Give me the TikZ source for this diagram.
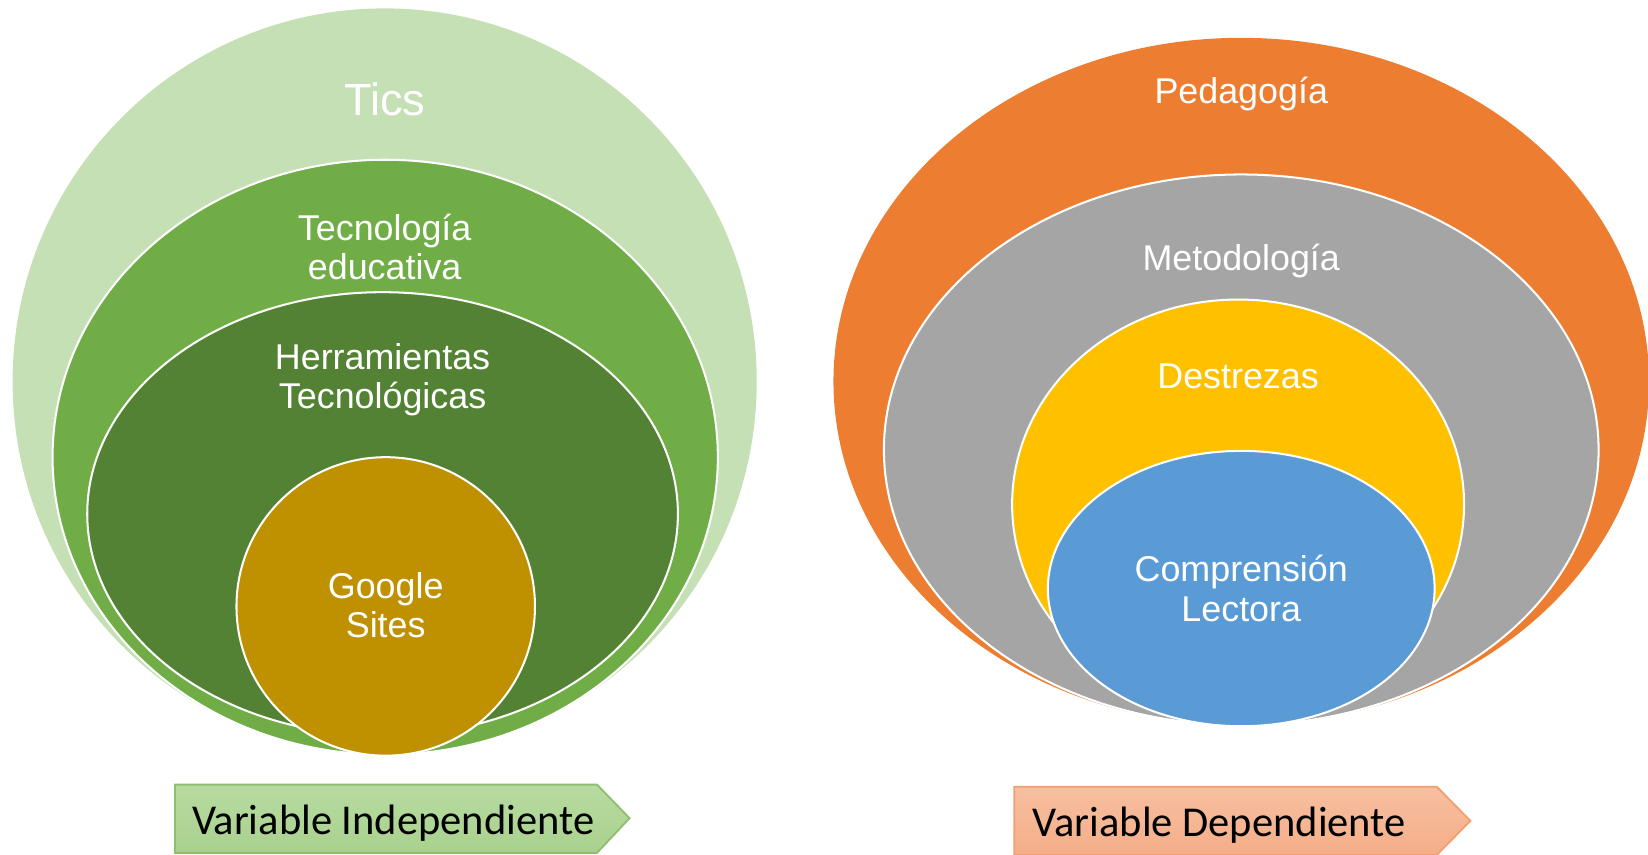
\documentclass[tikz,border=0pt]{standalone}
\usepackage{fontspec}
\setmainfont{Liberation Sans}
\newfontfamily\labelfont{Carlito}
\definecolor{ticsgreen}{HTML}{C5E0B4}
\definecolor{tecgreen}{HTML}{70AD47}
\definecolor{herrgreen}{HTML}{548235}
\definecolor{gold}{HTML}{BF9000}
\definecolor{pedorange}{HTML}{ED7D31}
\definecolor{metgray}{HTML}{A5A5A5}
\definecolor{desyellow}{HTML}{FFC000}
\definecolor{compblue}{HTML}{5B9BD5}
\definecolor{lgtop}{HTML}{B7DBA1}
\definecolor{lgbot}{HTML}{A9D18E}
\definecolor{lgedge}{HTML}{8FBF6E}
\definecolor{lotop}{HTML}{F7BFA0}
\definecolor{lobot}{HTML}{F4AE88}
\definecolor{loedge}{HTML}{F0A070}
\tikzset{
  layer/.style={draw=white, line width=0.55pt},
  wtext/.style={text=white, align=center, font=\fontsize{9.7}{10.6}\selectfont, inner sep=0pt},
  bigtext/.style={text=white, align=center, font=\fontsize{12.2}{13}\selectfont, inner sep=0pt},
  vlabel/.style={font=\labelfont\fontsize{11.5}{12}\selectfont, text=black, anchor=west, inner sep=0pt},
}
\begin{document}
\begin{tikzpicture}[x=0.01cm,y=-0.01cm]
\useasboundingbox (0,0) rectangle (1568,813);
% Left nest
\fill[ticsgreen] (366,363) ellipse [x radius=354, y radius=355];
\filldraw[layer, fill=tecgreen] (366.5,435) ellipse [x radius=316.5, y radius=283];
\filldraw[layer, fill=herrgreen] (364,489) ellipse [x radius=281, y radius=211];
\filldraw[layer, fill=gold] (367,577) ellipse [x radius=142, y radius=142];
\node[bigtext] (tics) at (366,95) {Tics};
\node[wtext] (tec) at (366,235) {Tecnología\\educativa};
\node[wtext] (herr) at (364,361) {Herramientas\\Tecnológicas};
\node[wtext] (goog) at (367,576) {Google\\Sites};
% Right nest
\fill[pedorange] (1181,363) ellipse [x radius=388, y radius=327];
\filldraw[layer, fill=metgray] (1181,428) ellipse [x radius=340, y radius=262];
\filldraw[layer, fill=desyellow] (1178,480) ellipse [x radius=215, y radius=195];
\filldraw[layer, fill=compblue] (1181,560) ellipse [x radius=184, y radius=131];
\node[wtext] (ped) at (1181,89) {Pedagogía};
\node[wtext] (met) at (1181,248) {Metodología};
\node[wtext] (des) at (1178,358) {Destrezas};
\node[wtext] (comp) at (1181,560) {Comprensión\\Lectora};
% Labels
\shade[top color=lgtop, bottom color=lgbot, draw=lgedge, line width=0.5pt]
  (166.5,746.5) -- (568,746.5) -- (599,778.5) -- (568,811.5) -- (166.5,811.5) -- cycle;
\node[vlabel] (vi) at (182,783) {Variable Independiente};
\shade[top color=lotop, bottom color=lobot, draw=loedge, line width=0.5pt]
  (965,748.5) -- (1367,748.5) -- (1399,781) -- (1367,813.5) -- (965,813.5) -- cycle;
\node[vlabel] (vd) at (982,785) {Variable Dependiente};
\end{tikzpicture}
\end{document}
